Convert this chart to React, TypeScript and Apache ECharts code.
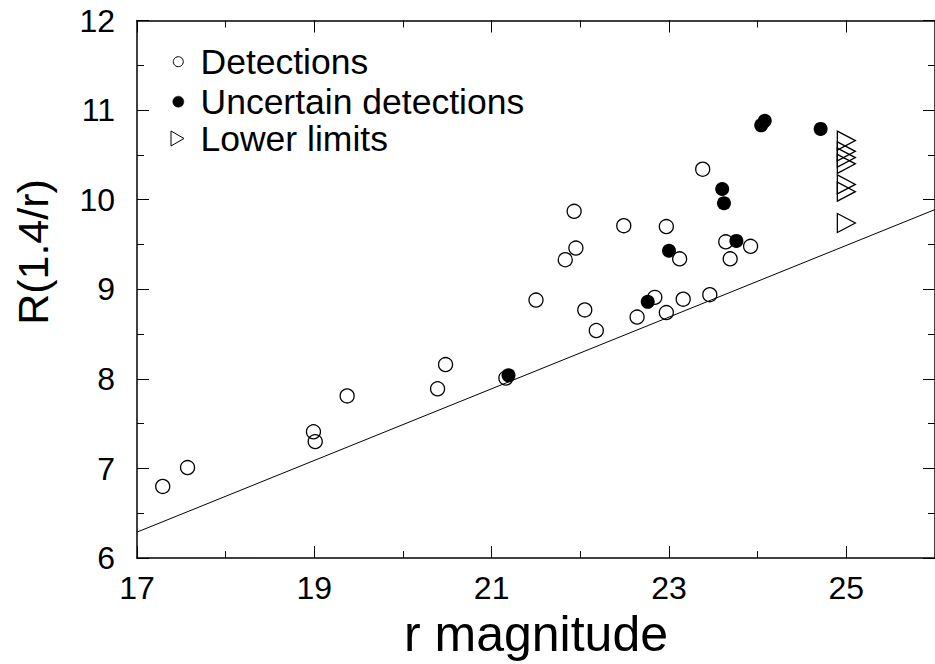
import React, { useEffect, useRef } from "react";
import * as echarts from "echarts";

// Detections (open circles)
const detX = [17.29, 17.57, 18.99, 19.01, 19.37, 20.39, 20.48, 21.16, 21.50, 21.93, 21.95, 21.83, 22.05, 22.18, 22.49, 22.97, 23.12, 22.84, 22.64, 22.97, 23.16, 23.46, 23.64, 23.92, 23.69, 23.38];
const detY = [6.80, 7.01, 7.41, 7.30, 7.81, 7.89, 8.16, 8.01, 8.88, 9.87, 9.46, 9.33, 8.77, 8.54, 9.71, 9.70, 9.34, 8.91, 8.69, 8.74, 8.89, 8.94, 9.53, 9.48, 9.34, 10.34];
// Uncertain detections (filled circles)
const uncX = [21.19, 22.76, 23.00, 23.60, 23.62, 23.76, 24.04, 24.08, 24.71];
const uncY = [8.04, 8.86, 9.43, 10.12, 9.96, 9.54, 10.83, 10.88, 10.79];
// Lower limits (triangles)
const limX = [25.0, 25.0, 25.0, 25.0, 25.0, 25.0, 25.0];
const limY = [10.66, 10.54, 10.47, 10.40, 10.17, 10.09, 9.74];
// Reference line
const lineX = [17, 26];
const lineY = [6.29, 9.89];

const legendLabels = ["Detections", "Uncertain detections", "Lower limits"];
const xTitle = "r magnitude";
const yTitle = "R(1.4/r)";

const FONT = "'Liberation Sans', Arial, Helvetica, sans-serif";

const zip = (a: number[], b: number[]) => a.map((v, i) => [v, b[i]]);

export default function App() {
  const ref = useRef<HTMLDivElement>(null);
  useEffect(() => {
    document.body.style.margin = "0";
    const chart = echarts.init(ref.current!, null, { renderer: "svg" });
    const black = "#000";
    const axLine = { show: true, onZero: false, lineStyle: { color: black, width: 1.5 } };
    const xCommon = { type: "value", min: 17, max: 26, splitLine: { show: false } };
    const yCommon = { type: "value", min: 6, max: 12, interval: 1, splitLine: { show: false } };
    chart.setOption({
      animation: false,
      backgroundColor: "#fff",
      grid: { left: 137, top: 20.5, right: -7.5, bottom: 105.5, containLabel: false },
      xAxis: [
        {
          ...xCommon,
          position: "bottom",
          interval: 2,
          axisLine: axLine,
          axisTick: { show: true, inside: true, length: 12, lineStyle: { color: black, width: 1 } },
          axisLabel: { show: true, fontSize: 32, fontFamily: FONT, color: black, margin: 14, showMaxLabel: false },
          name: xTitle,
          nameLocation: "middle",
          nameGap: 44,
          nameTextStyle: { fontSize: 50, fontFamily: FONT, color: black },
        },
        {
          ...xCommon,
          position: "bottom",
          interval: 1,
          axisLine: { show: false, onZero: false },
          axisTick: { show: true, inside: true, length: 7, lineStyle: { color: black, width: 1 } },
          axisLabel: { show: false },
        },
        {
          ...xCommon,
          position: "top",
          interval: 2,
          axisLine: axLine,
          axisTick: { show: true, inside: true, length: 12, lineStyle: { color: black, width: 1 } },
          axisLabel: { show: false },
        },
        {
          ...xCommon,
          position: "top",
          interval: 1,
          axisLine: { show: false, onZero: false },
          axisTick: { show: true, inside: true, length: 7, lineStyle: { color: black, width: 1 } },
          axisLabel: { show: false },
        },
      ],
      yAxis: [
        {
          ...yCommon,
          position: "left",
          axisLine: axLine,
          axisTick: { show: true, inside: true, length: 12, lineStyle: { color: black, width: 1 } },
          minorTick: { show: true, splitNumber: 2, length: 7, lineStyle: { color: black, width: 1 } },
          axisLabel: { show: true, fontSize: 32, fontFamily: FONT, color: black, margin: 22 },
        },
        {
          ...yCommon,
          position: "right",
          axisLine: axLine,
          axisTick: { show: true, inside: true, length: 12, lineStyle: { color: black, width: 1 } },
          minorTick: { show: true, splitNumber: 2, length: 7, lineStyle: { color: black, width: 1 } },
          axisLabel: { show: false },
        },
      ],
      series: [
        {
          type: "line",
          data: zip(lineX, lineY),
          symbol: "none",
          lineStyle: { color: black, width: 1 },
          xAxisIndex: 0,
          yAxisIndex: 0,
          z: 1,
        },
        {
          name: legendLabels[0],
          type: "scatter",
          data: zip(detX, detY),
          symbol: "circle",
          symbolSize: 14,
          itemStyle: { color: "rgba(0,0,0,0)", borderColor: black, borderWidth: 1.3, opacity: 1 },
          xAxisIndex: 0,
          yAxisIndex: 0,
          z: 2,
        },
        {
          name: legendLabels[2],
          type: "scatter",
          data: zip(limX, limY),
          symbol: "path://M0,0L18,9.5L0,19Z",
          symbolSize: [18, 19],
          itemStyle: { color: "rgba(0,0,0,0)", borderColor: black, borderWidth: 1.3, opacity: 1 },
          xAxisIndex: 0,
          yAxisIndex: 0,
          z: 2,
        },
        {
          name: legendLabels[1],
          type: "scatter",
          data: zip(uncX, uncY),
          symbol: "circle",
          symbolSize: 14,
          itemStyle: { color: black, opacity: 1 },
          xAxisIndex: 0,
          yAxisIndex: 0,
          z: 3,
        },
      ],
      graphic: [
        {
          type: "text",
          x: 33,
          y: 252,
          rotation: Math.PI / 2,
          style: { text: yTitle, fontSize: 43, fontFamily: FONT, fill: black, align: "center", verticalAlign: "middle" },
        },
        { type: "circle", shape: { cx: 178.3, cy: 61.7, r: 5 }, style: { fill: "none", stroke: black, lineWidth: 1 } },
        { type: "circle", shape: { cx: 178.3, cy: 101.7, r: 5.5 }, style: { fill: black, stroke: black, lineWidth: 0.5 } },
        {
          type: "polygon",
          shape: { points: [[171, 131], [184, 138.5], [171, 146]] },
          style: { fill: "none", stroke: black, lineWidth: 1 },
        },
        {
          type: "text",
          x: 200.5,
          y: 61.5,
          style: { text: legendLabels[0], fontSize: 35.5, fontFamily: FONT, fill: black, align: "left", verticalAlign: "middle" },
        },
        {
          type: "text",
          x: 200.5,
          y: 101.5,
          style: { text: legendLabels[1], fontSize: 35.5, fontFamily: FONT, fill: black, align: "left", verticalAlign: "middle" },
        },
        {
          type: "text",
          x: 200.5,
          y: 139,
          style: { text: legendLabels[2], fontSize: 35.5, fontFamily: FONT, fill: black, align: "left", verticalAlign: "middle" },
        },
      ],
    });
    return () => chart.dispose();
  }, []);
  return <div ref={ref} style={{ width: 935, height: 664 }} />;
}
